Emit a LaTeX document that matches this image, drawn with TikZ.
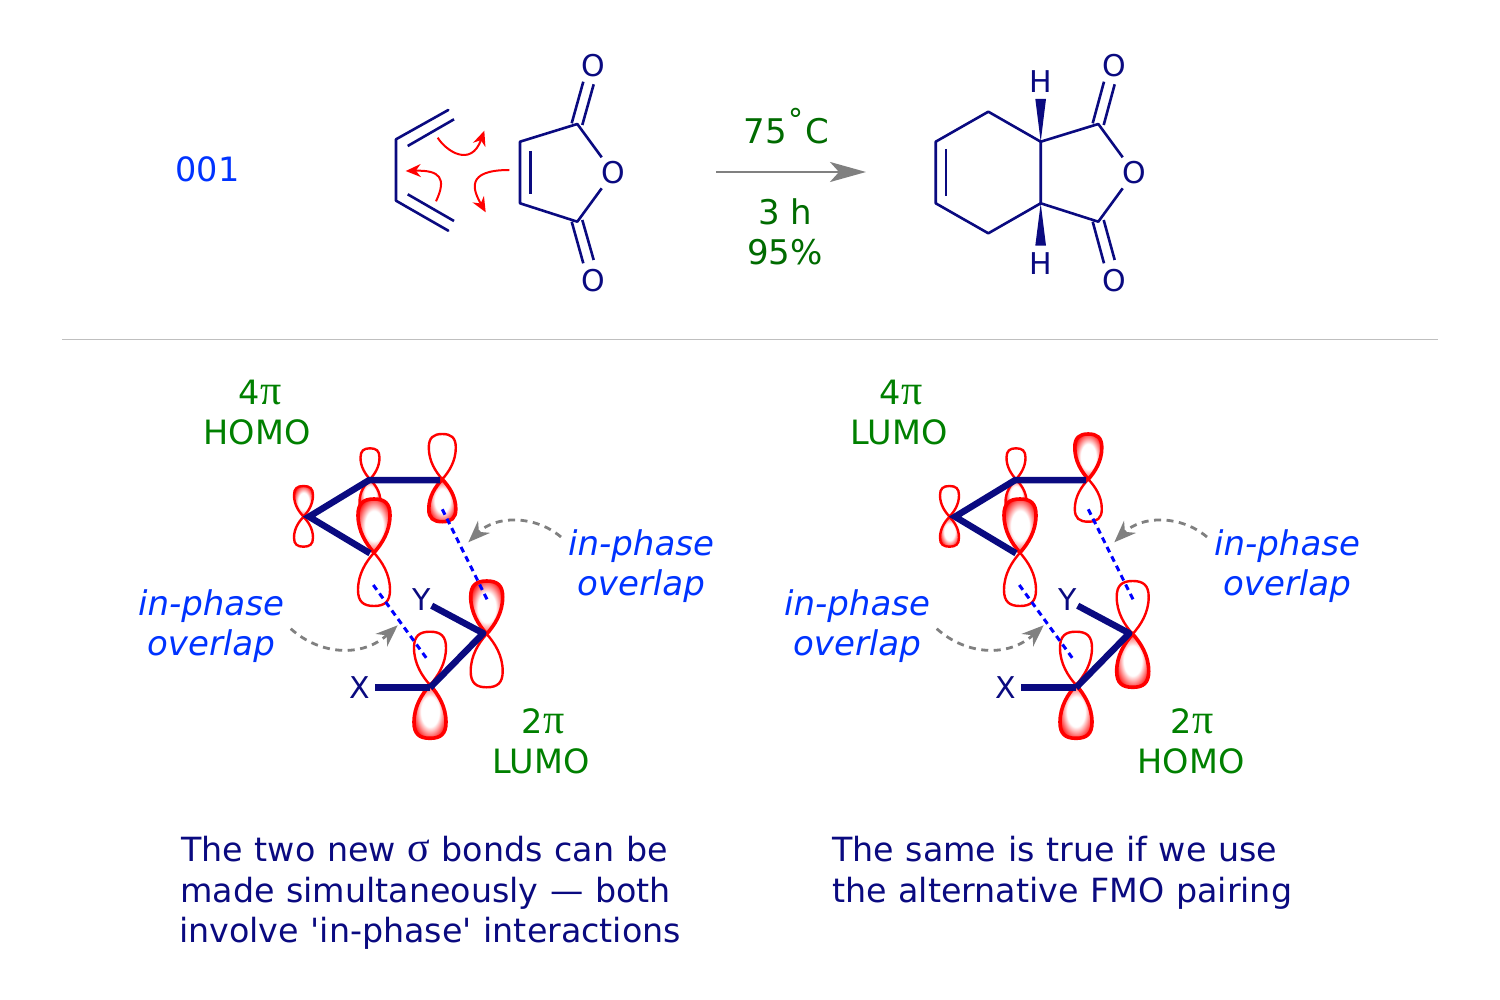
\documentclass[tikz,border=0pt]{standalone}
\usepackage{fontspec}
\setmainfont{DejaVu Sans}
\newfontfamily\serifgr{Liberation Serif}
\newfontfamily\capfont[WordSpace=1.1]{DejaVu Sans}
\usetikzlibrary{arrows.meta}
\definecolor{navyc}{HTML}{0A0A80}
\definecolor{greenc}{HTML}{006B00}
\definecolor{greenb}{HTML}{008000}
\definecolor{bluec}{HTML}{0033FF}
\definecolor{dashb}{HTML}{0000FF}
\definecolor{greyc}{HTML}{808080}
\pgfdeclareradialshading{lobeshade}{\pgfpoint{0bp}{0bp}}{color(0bp)=(white); color(14bp)=(white); color(29bp)=(red); color(50bp)=(red)}
\newcommand{\lobepath}{(0,0) .. controls (0.5,0.17) and (1,0.4) .. (1,0.7) .. controls (1,0.92) and (0.66,1) .. (0,1) .. controls (-0.66,1) and (-1,0.92) .. (-1,0.7) .. controls (-1,0.4) and (-0.5,0.17) .. (0,0) -- cycle}
% apex x, apex y, half width, signed length, style
\newcommand{\lobe}[5]{\path[#5,shift={(#1,#2)},xscale=#3,yscale=#4] \lobepath;}
\newcommand{\bigpi}{{\serifgr\fontsize{42}{42}\selectfont π}}
\tikzset{
  bond/.style={draw=navyc,line width=2.6pt},
  fmobond/.style={draw=navyc,line width=6.5pt},
  atom/.style={text=navyc,font=\fontsize{30}{34}\selectfont,inner sep=0pt},
  emptyl/.style={draw=red,line width=2.4pt,fill=white},
  filledl/.style={draw=red,line width=3.6pt,shading=lobeshade},
  thinfill/.style={draw=red,line width=2.4pt,shading=lobeshade},
  fmotxt/.style={text=greenb,font=\fontsize{33.5}{38}\selectfont,inner sep=0pt},
  condtxt/.style={text=greenc,font=\fontsize{34}{38}\selectfont,inner sep=0pt},
  phasetxt/.style={text=bluec,font=\fontsize{34}{38}\selectfont\itshape,inner sep=0pt},
  captxt/.style={text=navyc,font=\capfont\fontsize{33.3}{40.5}\selectfont,inner sep=0pt,align=left,anchor=north west},
  curly/.style={draw=red,line width=2pt,-{Stealth[length=15pt,width=13pt,fill=red]}},
  overlap/.style={draw=dashb,line width=3pt,dash pattern=on 6pt off 4.5pt},
  greyarc/.style={draw=greyc,line width=2.8pt,dash pattern=on 7pt off 5.5pt,-{Stealth[length=22pt,width=17pt,fill=greyc]}},
}
\begin{document}
\begin{tikzpicture}[x=1pt,y=-1pt]
\useasboundingbox (0,0) rectangle (1500,1000);
\node[text=bluec,font=\fontsize{33.5}{38}\selectfont,inner sep=0pt] (num) at (207.5,169) {001};

% --- diene
\coordinate (d1) at (448.3,110); \coordinate (d2) at (396,139.3); \coordinate (d3) at (396,200.7); \coordinate (d4) at (448.3,230.7);
\coordinate (d1i) at (454,119.3); \coordinate (d2i) at (407.7,146); \coordinate (d3i) at (407.7,194.3); \coordinate (d4i) at (454,221);
\draw[bond,line cap=round,line join=round] (d1) -- (d2) -- (d3) -- (d4);
\draw[bond] (d1i) -- (d2i);
\draw[bond] (d3i) -- (d4i);

% --- maleic anhydride
\node[atom] (mo) at (613.7,172.7) {O};
\node[atom] (mot) at (593.7,65.7) {O};
\node[atom] (mob) at (593.7,280.7) {O};
\coordinate (m1) at (520,141.7); \coordinate (m2) at (520,203.3); \coordinate (m3) at (577.3,124); \coordinate (m4) at (577.3,221.7);
\coordinate (m1i) at (530.7,151); \coordinate (m2i) at (530.7,194.3);
\coordinate (moa) at (601.7,157.3); \coordinate (mob2) at (601.7,188.3);
\coordinate (ct1) at (571.7,123.3); \coordinate (ct2) at (583.3,81.7); \coordinate (ct3) at (582.3,125); \coordinate (ct4) at (593.7,84.3);
\coordinate (cb1) at (571.7,221.7); \coordinate (cb2) at (583.3,263.3); \coordinate (cb3) at (582.3,220); \coordinate (cb4) at (593.7,260);
\draw[bond,line join=round] (moa) -- (m3) -- (m1) -- (m2) -- (m4) -- (mob2);
\draw[bond] (m1i) -- (m2i);
\draw[bond] (ct1) -- (ct2); \draw[bond] (ct3) -- (ct4);
\draw[bond] (cb1) -- (cb2); \draw[bond] (cb3) -- (cb4);

% --- curly arrows
\coordinate (a1s) at (437.7,137.7); \coordinate (a1e) at (484.3,130.7);
\coordinate (a2s) at (436,201.3); \coordinate (a2e) at (405.7,171);
\coordinate (a3s) at (509.3,170); \coordinate (a3e) at (485.7,212.3);
\draw[curly] (a1s) .. controls (446,151) and (471,168) .. (a1e);
\draw[curly] (a2s) .. controls (447,178) and (440,170) .. (a2e);
\draw[curly] (a3s) .. controls (465,170) and (473,190) .. (a3e);

% --- reaction arrow
\coordinate (ra) at (716,172); \coordinate (rb) at (866,172);
\draw[draw=greyc,line width=2.6pt,-{Stealth[length=36pt,width=20pt,inset=9pt,fill=greyc]}] (ra) -- (rb);
\node[condtxt] (c1) at (786.5,126) {75\raisebox{13pt}{\fontsize{30}{30}\selectfont\kern2pt °\kern2pt}C};
\node[condtxt] (c2) at (785,212) {3 h};
\node[condtxt] (c3) at (785,252) {95\%};

% --- product
\node[atom] (po) at (1134.3,172.7) {O};
\node[atom] (pot) at (1114.3,65.7) {O};
\node[atom] (pob) at (1114.3,280.7) {O};
\node[atom] (hu) at (1041,82) {H};
\node[atom] (hd) at (1041,264) {H};
\coordinate (p1) at (935.7,141.7); \coordinate (p2) at (935.7,203.3); \coordinate (p3) at (988.3,111.7); \coordinate (p4) at (988.3,233.3);
\coordinate (p5) at (1040.7,141.7); \coordinate (p6) at (1040.7,203.3); \coordinate (p7) at (1098.3,124); \coordinate (p8) at (1098.3,221.7);
\coordinate (p1i) at (946,149); \coordinate (p2i) at (946,195.7);
\coordinate (pa) at (1122.7,157.3); \coordinate (pb) at (1122.7,188.3);
\coordinate (qt1) at (1092.7,123.3); \coordinate (qt2) at (1104,81.7); \coordinate (qt3) at (1103.7,125); \coordinate (qt4) at (1114.7,84.3);
\coordinate (qb1) at (1092.7,221.7); \coordinate (qb2) at (1104,263.3); \coordinate (qb3) at (1103.7,220); \coordinate (qb4) at (1114.7,260);
\coordinate (wu1) at (1035.3,99); \coordinate (wu2) at (1046,99); \coordinate (wd1) at (1035.3,245.7); \coordinate (wd2) at (1046,245.7);
\draw[bond,line join=round] (pa) -- (p7) -- (p5) -- (p6) -- (p8) -- (pb);
\draw[bond,line join=round] (p5) -- (p3) -- (p1) -- (p2) -- (p4) -- (p6);
\draw[bond] (p1i) -- (p2i);
\draw[bond] (qt1) -- (qt2); \draw[bond] (qt3) -- (qt4);
\draw[bond] (qb1) -- (qb2); \draw[bond] (qb3) -- (qb4);
\fill[navyc] (p5) -- (wu1) -- (wu2) -- cycle;
\fill[navyc] (p6) -- (wd1) -- (wd2) -- cycle;

% --- divider
\coordinate (ru) at (62,339.5); \coordinate (rv) at (1438,339.5);
\draw[draw=black!25,line width=1.2pt] (ru) -- (rv);

% --- left FMO
\lobe{370}{479.3}{9.5}{-31}{emptyl}
\lobe{370}{479.3}{10.5}{32}{thinfill}
\lobe{303.5}{516.7}{9.5}{-30.7}{thinfill}
\lobe{303.5}{516.7}{9.5}{30}{emptyl}
\lobe{442.3}{479.3}{13.5}{-45.3}{emptyl}
\lobe{442.3}{479.3}{13.5}{42.4}{filledl}
\lobe{374}{552.7}{16}{-53.7}{filledl}
\lobe{374}{552.7}{16}{53.3}{emptyl}
\lobe{486.7}{634}{16}{-53}{filledl}
\lobe{486.7}{634}{16}{53.3}{emptyl}
\lobe{430}{685}{16}{-53.3}{emptyl}
\lobe{430}{685}{16}{53.3}{filledl}
\coordinate (l1) at (309,516.7); \coordinate (l2) at (369.3,480); \coordinate (l3) at (370,553.3); \coordinate (l4) at (440,480);
\coordinate (lx1) at (375,687.7); \coordinate (lx2) at (430,687.7); \coordinate (ly1) at (431.7,605.7); \coordinate (ly2) at (483.3,633.3);
\draw[fmobond,line join=miter] (l4) -- (l2) -- (l1) -- (l3);
\draw[fmobond] (lx1) -- (lx2);
\draw[fmobond,line join=round] (ly1) -- (ly2) -- (lx2);
\node[atom] (lx) at (359.5,688) {X};
\node[atom] (ly) at (421.5,600) {Y};
\coordinate (lo1) at (442.3,509.3); \coordinate (lo2) at (489,603.3); \coordinate (lo3) at (373.3,585); \coordinate (lo4) at (428.3,660.7);
\draw[overlap] (lo1) -- (lo2);
\draw[overlap] (lo3) -- (lo4);
\coordinate (lg1) at (561,537); \coordinate (lg2) at (468.3,542.3); \coordinate (lg3) at (290.7,628.7); \coordinate (lg4) at (397.7,625.3);
\draw[greyarc] (lg1) .. controls (535,515) and (496,515) .. (lg2);
\draw[greyarc] (lg3) .. controls (320,655) and (362,658) .. (lg4);
\node[fmotxt] (l4pi) at (260,392) {4\bigpi};
\node[fmotxt] (lhomo) at (257,432) {HOMO};
\node[fmotxt] (l2pi) at (543,721) {2\bigpi};
\node[fmotxt] (llumo) at (541,761) {LUMO};
\node[phasetxt] (lp1) at (641,546.5) {in-phase};
\node[phasetxt] (lp2) at (641,586.5) {overlap};
\node[phasetxt] (lp3) at (211,606.5) {in-phase};
\node[phasetxt] (lp4) at (211,646.5) {overlap};

% --- right FMO
\lobe{1016}{479.3}{9.5}{-31}{emptyl}
\lobe{1016}{479.3}{10.5}{32}{thinfill}
\lobe{949.5}{516.7}{9.5}{-30.7}{emptyl}
\lobe{949.5}{516.7}{9.5}{30}{thinfill}
\lobe{1088.3}{479.3}{13.5}{-45.3}{filledl}
\lobe{1088.3}{479.3}{13.5}{42.4}{emptyl}
\lobe{1020}{552.7}{16}{-53.7}{filledl}
\lobe{1020}{552.7}{16}{53.3}{emptyl}
\lobe{1132.7}{634}{16}{-53}{emptyl}
\lobe{1132.7}{634}{16}{53.3}{filledl}
\lobe{1076}{685}{16}{-53.3}{emptyl}
\lobe{1076}{685}{16}{53.3}{filledl}
\coordinate (r1) at (955,516.7); \coordinate (r2) at (1015.3,480); \coordinate (r3) at (1016,553.3); \coordinate (r4) at (1086,480);
\coordinate (rx1) at (1021,687.7); \coordinate (rx2) at (1076,687.7); \coordinate (ry1) at (1077.7,605.7); \coordinate (ry2) at (1129.3,633.3);
\draw[fmobond,line join=miter] (r4) -- (r2) -- (r1) -- (r3);
\draw[fmobond] (rx1) -- (rx2);
\draw[fmobond,line join=round] (ry1) -- (ry2) -- (rx2);
\node[atom] (rx) at (1005.5,688) {X};
\node[atom] (ry) at (1067.5,600) {Y};
\coordinate (ro1) at (1088.3,509.3); \coordinate (ro2) at (1135,603.3); \coordinate (ro3) at (1019.3,585); \coordinate (ro4) at (1074.3,660.7);
\draw[overlap] (ro1) -- (ro2);
\draw[overlap] (ro3) -- (ro4);
\coordinate (rg1) at (1207,537); \coordinate (rg2) at (1114.3,542.3); \coordinate (rg3) at (936.7,628.7); \coordinate (rg4) at (1043.7,625.3);
\draw[greyarc] (rg1) .. controls (1181,515) and (1142,515) .. (rg2);
\draw[greyarc] (rg3) .. controls (966,655) and (1008,658) .. (rg4);
\node[fmotxt] (r4pi) at (901,392) {4\bigpi};
\node[fmotxt] (rlumo) at (899,432) {LUMO};
\node[fmotxt] (r2pi) at (1192,721) {2\bigpi};
\node[fmotxt] (rhomo) at (1191,761) {HOMO};
\node[phasetxt] (rp1) at (1287,546.5) {in-phase};
\node[phasetxt] (rp2) at (1287,586.5) {overlap};
\node[phasetxt] (rp3) at (857,606.5) {in-phase};
\node[phasetxt] (rp4) at (857,646.5) {overlap};

% --- captions
\node[captxt] (capl) at (179,836) {\hspace*{2pt}The two new {\serifgr\fontsize{42}{40.5}\selectfont σ} bonds can be\\\hspace*{1pt}made simultaneously — both\\involve \symbol{39}in-phase\symbol{39} interactions};
\node[captxt] (capr) at (832,836) {The same is true if we use\\the alternative FMO pairing};
\end{tikzpicture}
\end{document}
